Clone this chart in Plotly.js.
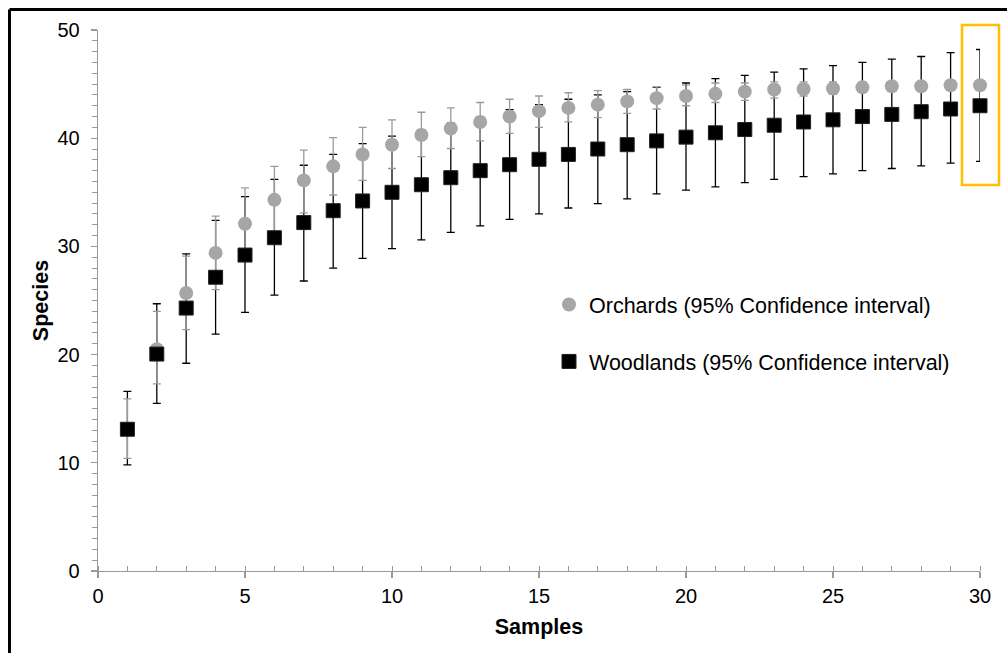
<!DOCTYPE html>
<html>
<head>
<meta charset="utf-8">
<script src="https://cdn.plot.ly/plotly-3.0.1.min.js"></script>
<style>html,body{margin:0;padding:0;background:#fff;}#chart{width:1007px;height:653px;}</style>
</head>
<body>
<div id="chart"></div>
<script>
// ---- Data ----
var samples = [1,2,3,4,5,6,7,8,9,10,11,12,13,14,15,16,17,18,19,20,21,22,23,24,25,26,27,28,29,30];

var orchardsMean  = [13.1,20.5,25.7,29.4,32.1,34.3,36.1,37.4,38.5,39.4,40.3,40.9,41.5,42.0,42.5,42.8,43.1,43.4,43.7,43.9,44.1,44.3,44.5,44.55,44.6,44.7,44.8,44.8,44.9,44.9];
var orchardsUpper = [15.9,24.0,29.1,32.8,35.4,37.4,38.9,40.05,41.0,41.7,42.4,42.8,43.3,43.6,43.9,44.2,44.4,44.5,44.75,44.9,45.1,45.1,45.2,45.2,45.2,45.2,45.2,45.1,45.05,44.9];
var orchardsLower = [10.4,17.3,22.3,26.0,28.8,31.2,33.1,34.75,36.1,37.2,38.3,39.05,39.75,40.45,41.0,41.5,41.9,42.3,42.7,43.0,43.3,43.5,43.7,43.9,44.05,44.25,44.45,44.55,44.75,44.9];

var woodlandsMean  = [13.1,20.05,24.3,27.15,29.2,30.8,32.2,33.3,34.2,35.0,35.7,36.35,37.0,37.55,38.05,38.5,39.0,39.4,39.75,40.1,40.5,40.8,41.2,41.5,41.7,42.0,42.2,42.45,42.7,43.0];
var woodlandsUpper = [16.6,24.7,29.3,32.4,34.6,36.2,37.5,38.5,39.5,40.2,40.8,41.4,42.0,42.65,43.1,43.6,44.0,44.3,44.7,45.1,45.5,45.8,46.1,46.4,46.7,47.0,47.3,47.55,47.9,48.2];
var woodlandsLower = [9.8,15.5,19.2,21.9,23.9,25.5,26.8,28.0,28.9,29.8,30.6,31.3,31.9,32.5,33.0,33.55,33.95,34.4,34.85,35.2,35.5,35.9,36.2,36.45,36.7,37.0,37.2,37.45,37.7,37.85];

var seriesNames = ['Orchards (95% Confidence interval)', 'Woodlands (95% Confidence interval)'];
var axisTitles = {x: 'Samples', y: 'Species'};

function diff(a, b) { return a.map(function (v, i) { return +(v - b[i]).toFixed(3); }); }

var FONT = 'Liberation Sans, Arial, Helvetica, sans-serif';
var AXIS_GRAY = '#9a9a9a';

var traces = [
  { // woodland error bars (beneath orchard markers)
    x: samples, y: woodlandsMean, type: 'scatter', mode: 'markers',
    marker: {color: 'rgba(0,0,0,0)', size: 1},
    error_y: {type: 'data', symmetric: false,
      array: diff(woodlandsUpper, woodlandsMean), arrayminus: diff(woodlandsMean, woodlandsLower),
      color: '#000000', thickness: 1.3, width: 4},
    showlegend: false, hoverinfo: 'skip', cliponaxis: false
  },
  {
    x: samples, y: orchardsMean, type: 'scatter', mode: 'markers', name: seriesNames[0],
    legendgroup: 'o',
    marker: {symbol: 'circle', color: '#a6a6a6', size: 14},
    error_y: {type: 'data', symmetric: false,
      array: diff(orchardsUpper, orchardsMean), arrayminus: diff(orchardsMean, orchardsLower),
      color: '#9a9a9a', thickness: 1.3, width: 4},
    cliponaxis: false
  },
  {
    x: samples, y: woodlandsMean, type: 'scatter', mode: 'markers', name: seriesNames[1],
    legendgroup: 'w',
    marker: {symbol: 'square', color: '#000000', size: 14, line: {color: '#222', width: 1}},
    cliponaxis: false
  }
];

// helpers to convert reference pixel positions into paper coords
var L = 98, R = 980, T = 30, B = 571;
function px(x) { return (x - L) / (R - L); }
function py(y) { return (B - y) / (B - T); }

var layout = {
  width: 1007, height: 653,
  margin: {l: L, r: 1007 - R, t: T, b: 653 - B},
  paper_bgcolor: '#ffffff', plot_bgcolor: '#ffffff',
  font: {family: FONT, color: '#000000', size: 20},
  showlegend: true,
  legend: {
    x: px(549), y: py(284), xanchor: 'left', yanchor: 'top',
    font: {family: FONT, size: 21.5, color: '#000'},
    bgcolor: 'rgba(0,0,0,0)', borderwidth: 0,
    traceorder: 'grouped', tracegroupgap: 26
  },
  xaxis: {
    range: [0, 30], tick0: 0, dtick: 5, showgrid: false, zeroline: false,
    showline: true, linecolor: AXIS_GRAY, linewidth: 1.3,
    ticks: 'outside', ticklen: 6, tickwidth: 1.3, tickcolor: AXIS_GRAY,
    minor: {dtick: 1, ticks: 'inside', ticklen: 5, tickwidth: 1, tickcolor: AXIS_GRAY, showgrid: false},
    tickfont: {family: FONT, size: 20, color: '#000'}, ticklabelstandoff: 1,
    title: {text: axisTitles.x, font: {family: FONT, size: 21.5, color: '#000', weight: 'bold'}, standoff: 12},
    automargin: false
  },
  yaxis: {
    range: [0, 50], tick0: 0, dtick: 10, showgrid: false, zeroline: false,
    showline: true, linecolor: AXIS_GRAY, linewidth: 1.3,
    ticks: 'outside', ticklen: 6, tickwidth: 1.3, tickcolor: AXIS_GRAY,
    minor: {dtick: 1, ticks: 'outside', ticklen: 5, tickwidth: 1, tickcolor: AXIS_GRAY, showgrid: false},
    tickfont: {family: FONT, size: 20, color: '#000'}, ticklabelstandoff: 7,
    title: {text: axisTitles.y, font: {family: FONT, size: 21.5, color: '#000', weight: 'bold'}, standoff: 3},
    automargin: false
  },
  xaxis2: {
    overlaying: 'x', anchor: 'y', range: [0, 30], tick0: 0, dtick: 5,
    showgrid: false, zeroline: false, showline: false, showticklabels: false,
    ticks: 'inside', ticklen: 6, tickwidth: 1.3, tickcolor: AXIS_GRAY, side: 'bottom'
  },
  yaxis2: {
    overlaying: 'y', anchor: 'x', range: [0, 50], tick0: 0, dtick: 10,
    showgrid: false, zeroline: false, showline: false, showticklabels: false,
    ticks: 'inside', ticklen: 6, tickwidth: 1.3, tickcolor: AXIS_GRAY, side: 'left'
  },
  shapes: [
    // figure frame (top and left edges visible in the reference crop)
    {type: 'line', xref: 'paper', yref: 'paper', x0: px(9.5), x1: px(1010), y0: py(9.5), y1: py(9.5),
     line: {color: '#000', width: 3}},
    {type: 'line', xref: 'paper', yref: 'paper', x0: px(9.5), x1: px(9.5), y0: py(9.5), y1: py(660),
     line: {color: '#000', width: 3}},
    // highlight box around the last sample
    {type: 'rect', xref: 'paper', yref: 'paper', x0: px(962), x1: px(999), y0: py(185), y1: py(25),
     line: {color: '#FFC000', width: 2.5}, fillcolor: 'rgba(0,0,0,0)', layer: 'above'}
  ]
};

Plotly.newPlot('chart', traces, layout, {displayModeBar: false, staticPlot: true});
</script>
</body>
</html>
